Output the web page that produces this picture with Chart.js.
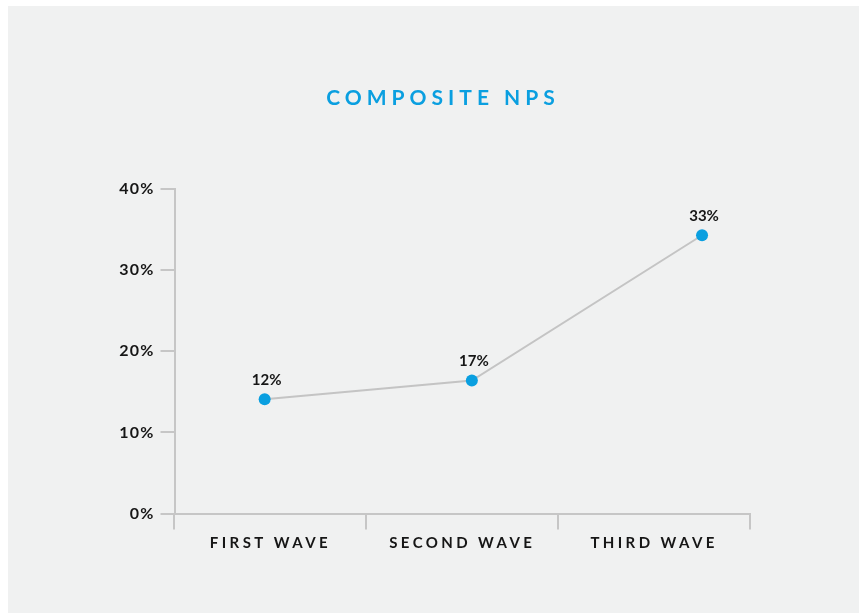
<!DOCTYPE html>
<html><head><meta charset="utf-8">
<script src="https://cdn.jsdelivr.net/npm/chart.js@4.4.1/dist/chart.umd.min.js"></script>
<style>
html,body{margin:0;padding:0;background:#fff;}
#panel{position:absolute;left:8px;top:6px;width:851px;height:607px;background:#f0f1f1;}
canvas{display:block;}
</style></head><body>
<div id="panel"><canvas id="c" width="851" height="607"></canvas></div>
<script>
const titleText = 'COMPOSITE NPS';
const categories = ['FIRST WAVE', 'SECOND WAVE', 'THIRD WAVE'];
const wavePosition = [0.47, 1.55, 2.75];
const npsValues = [14.1, 16.4, 34.3];
const pointLabels = ['12%', '17%', '33%'];
const yMin = 0, yMax = 40, yStep = 10;

const AXIS = '#c6c6c6';
const BLUE = '#0a9fe0';
const TEXT = '#161616';
const FONT = 'Lato, "Open Sans", sans-serif';

const spacingPlugin = {
  id: 'spacing',
  afterLayout(chart) {
    const t = chart.titleBlock;
    if (t && !t._wrapped) {
      const o = t.draw;
      t.draw = function (a) { const ctx = this.ctx; ctx.save(); ctx.translate(10.75, 0); ctx.letterSpacing = '5px'; o.call(this, a); ctx.restore(); };
      t._wrapped = true;
    }
    [['x', '3.4px'], ['y', '1.2px']].forEach(([id, sp]) => {
      const s = chart.scales[id];
      if (s && !s._wrapped) {
        const o = s.drawLabels;
        s.drawLabels = function (a) { const ctx = this.ctx; ctx.save(); ctx.letterSpacing = sp; o.call(this, a); ctx.restore(); };
        s._wrapped = true;
      }
    });
  }
};

const labelPlugin = {
  id: 'pointLabels',
  afterDatasetsDraw(chart) {
    const ctx = chart.ctx;
    const meta = chart.getDatasetMeta(0);
    ctx.save();
    ctx.font = '700 15px ' + FONT;
    ctx.fillStyle = TEXT;
    ctx.textAlign = 'center';
    ctx.textBaseline = 'middle';
    meta.data.forEach((p, i) => { ctx.fillText(pointLabels[i], p.x + 2, p.y - 19); });
    ctx.restore();
  }
};

new Chart(document.getElementById('c'), {
  type: 'line',
  data: {
    labels: categories,
    datasets: [{
      data: wavePosition.map((x, i) => ({ x: x, y: npsValues[i] })),
      xAxisID: 'xp',
      yAxisID: 'y',
      borderColor: '#c4c4c4',
      borderWidth: 2,
      tension: 0,
      pointRadius: 6,
      pointHoverRadius: 6,
      pointBackgroundColor: BLUE,
      pointBorderWidth: 0,
      fill: false
    }]
  },
  options: {
    responsive: false,
    animation: false,
    events: [],
    layout: { padding: { left: 106.5, right: 109, top: 60, bottom: 49.4 } },
    plugins: {
      legend: { display: false },
      tooltip: { enabled: false },
      title: {
        display: true,
        text: titleText,
        color: BLUE,
        font: { family: FONT, size: 21, weight: '700', lineHeight: 1.2 },
        padding: { top: 19.4, bottom: 78.4 }
      }
    },
    scales: {
      x: {
        type: 'category',
        position: 'bottom',
        offset: true,
        afterFit(s) { s.height = 50; },
        grid: { display: true, offset: true, drawOnChartArea: false, drawTicks: true, tickLength: 16, color: AXIS, lineWidth: 2 },
        border: { display: true, color: AXIS, width: 2 },
        ticks: { color: TEXT, padding: 5, font: { family: FONT, size: 15, weight: '700' }, maxRotation: 0 }
      },
      xp: {
        type: 'linear',
        display: false,
        min: 0,
        max: categories.length
      },
      y: {
        type: 'linear',
        min: yMin,
        max: yMax,
        afterFit(s) { s.width = 60; },
        grid: { display: true, drawOnChartArea: false, drawTicks: true, tickLength: 14, color: AXIS, lineWidth: 2 },
        border: { display: true, color: AXIS, width: 2 },
        ticks: { stepSize: yStep, color: TEXT, padding: 6, font: { family: FONT, size: 16, weight: '700' }, callback: v => v + '%' }
      }
    }
  },
  plugins: [spacingPlugin, labelPlugin]
});
</script>
</body></html>
